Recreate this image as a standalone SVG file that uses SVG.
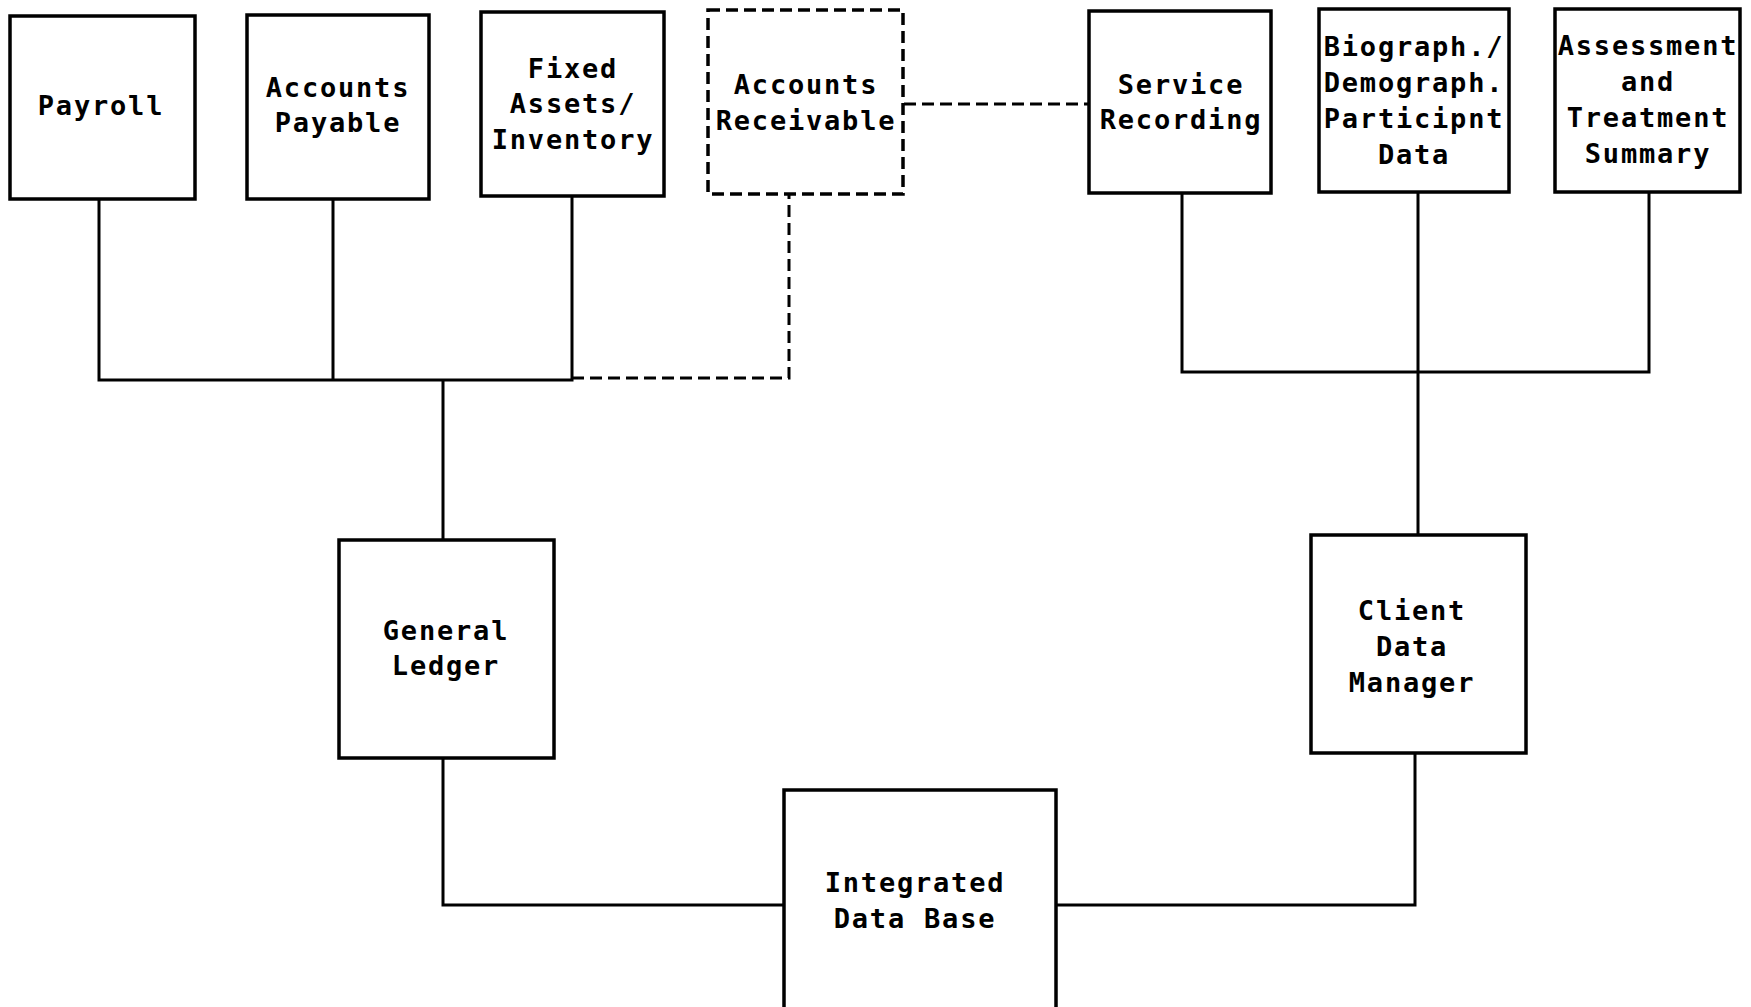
<svg xmlns="http://www.w3.org/2000/svg" width="1751" height="1007" viewBox="0 0 1751 1007">
<style>
.box{fill:#fff;stroke:#000;stroke-width:3.5}
.dbox{fill:#fff;stroke:#000;stroke-width:3.5;stroke-dasharray:12 6}
.ln{fill:none;stroke:#000;stroke-width:3}
.dl{fill:none;stroke:#000;stroke-width:3;stroke-dasharray:12 6}
text{font-family:"DejaVu Sans Mono","Liberation Mono",monospace;font-size:27px;font-weight:bold;letter-spacing:1.8px;text-anchor:middle;fill:#000}
</style>
<rect width="1751" height="1007" fill="#fff"/>
<g id="connectors">
<path class="ln" d="M99,198 V380 H572 V196 M333,199 V380 M443,380 V540"/>
<path class="dl" d="M572,378 H789 V194"/>
<path class="dl" d="M904,104 H1088"/>
<path class="ln" d="M1182,193 V372 H1649 V192 M1418,192 V535"/>
<path class="ln" d="M443,758 V905 H784 M1056,905 H1415 V753"/>
</g>
<g id="payroll"><rect class="box" x="10" y="16" width="185" height="183"/><text x="101" y="115">Payroll</text></g>
<g id="accounts-payable"><rect class="box" x="247" y="15" width="182" height="184"/><text x="338" y="97">Accounts</text><text x="338" y="132">Payable</text></g>
<g id="fixed-assets"><rect class="box" x="481" y="12" width="183" height="184"/><text x="573" y="78">Fixed</text><text x="573" y="113">Assets/</text><text x="573" y="149">Inventory</text></g>
<g id="accounts-receivable"><rect class="dbox" x="708" y="10" width="195" height="184"/><text x="806" y="94">Accounts</text><text x="806" y="130">Receivable</text></g>
<g id="service-recording"><rect class="box" x="1089" y="11" width="182" height="182"/><text x="1181" y="94">Service</text><text x="1181" y="129">Recording</text></g>
<g id="biograph"><rect class="box" x="1319" y="9" width="190" height="183"/><text x="1414" y="56">Biograph./</text><text x="1414" y="92">Demograph.</text><text x="1414" y="128">Participnt</text><text x="1414" y="164">Data</text></g>
<g id="assessment"><rect class="box" x="1555" y="9" width="185" height="183"/><text x="1648" y="55">Assessment</text><text x="1648" y="91">and</text><text x="1648" y="127">Treatment</text><text x="1648" y="163">Summary</text></g>
<g id="general-ledger"><rect class="box" x="339" y="540" width="215" height="218"/><text x="446" y="640">General</text><text x="446" y="675">Ledger</text></g>
<g id="client-data-manager"><rect class="box" x="1311" y="535" width="215" height="218"/><text x="1412" y="620">Client</text><text x="1412" y="656">Data</text><text x="1412" y="692">Manager</text></g>
<g id="integrated-data-base"><rect class="box" x="784" y="790" width="272" height="240"/><text x="915" y="892">Integrated</text><text x="915" y="928">Data Base</text></g>
</svg>
